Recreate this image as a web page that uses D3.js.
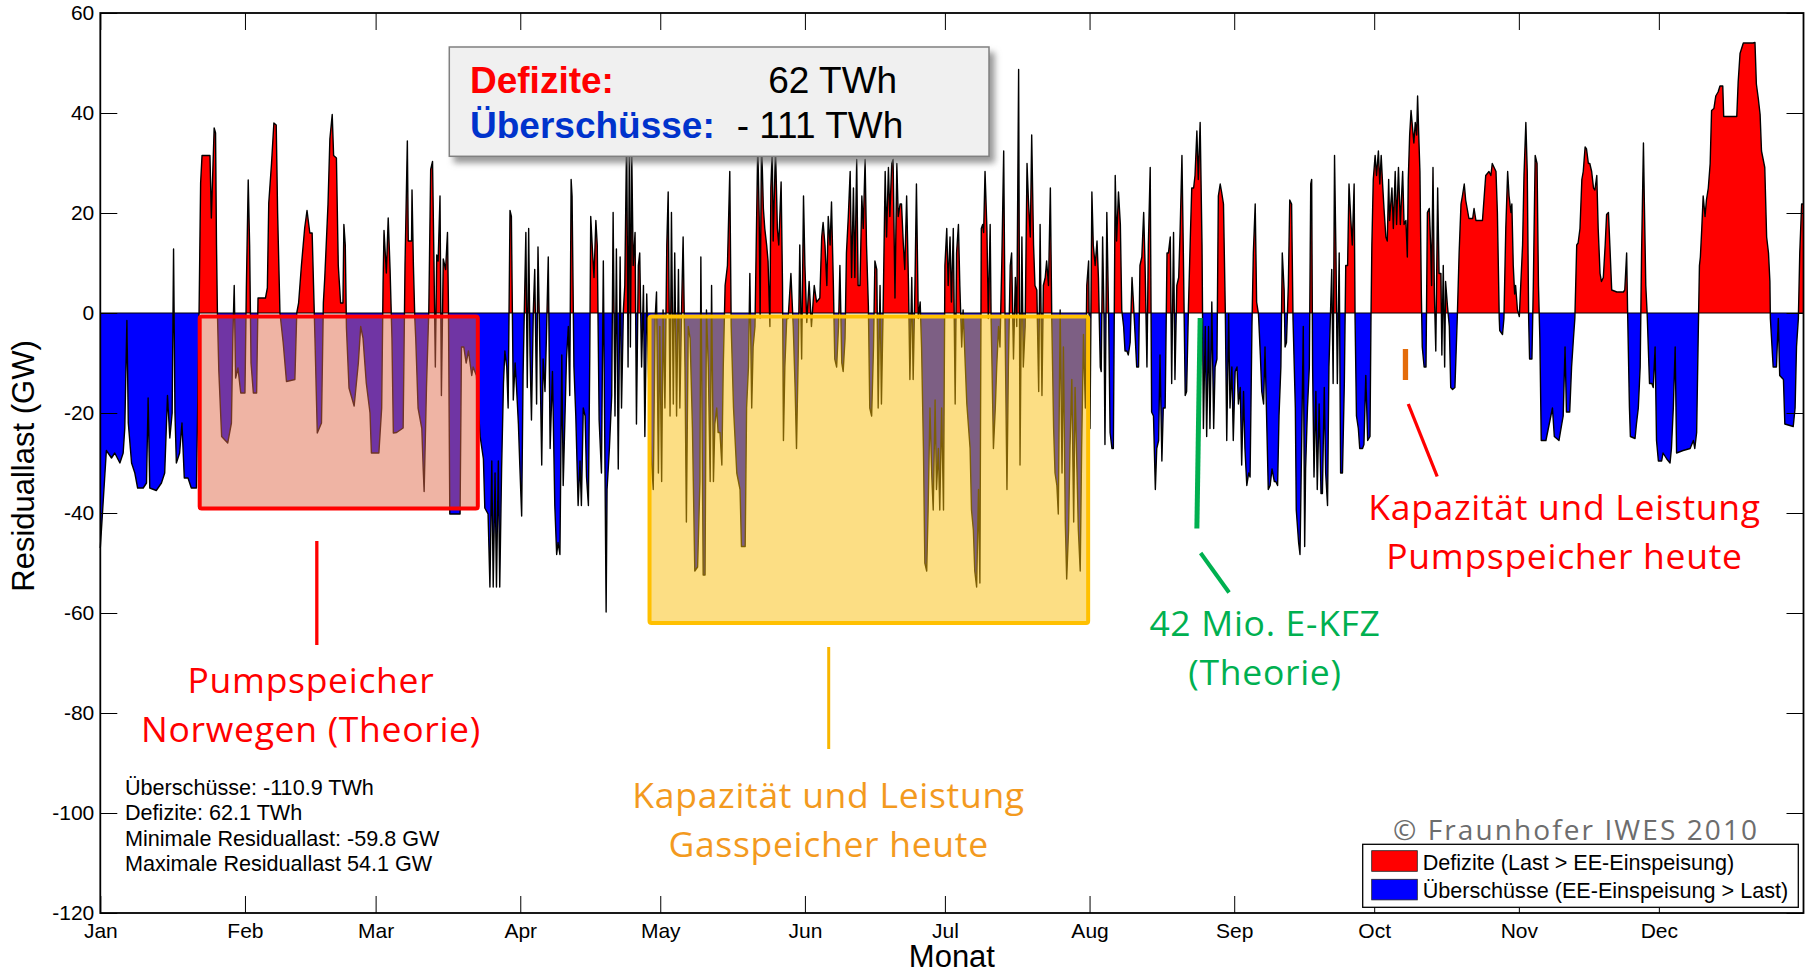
<!DOCTYPE html>
<html>
<head>
<meta charset="utf-8">
<script src="https://cdn.jsdelivr.net/npm/d3@7"></script>
<style>
body { margin: 0; background: #fff; }
svg { display: block; font-family: "Liberation Sans", Arial, sans-serif; }
.tick text { font-size: 21px; fill: #000; }
.tick line { stroke: #000; stroke-width: 1; }
.ann { font-family: "Open Sans", sans-serif; font-size: 35.5px; letter-spacing: 0.7px; text-anchor: middle; }
</style>
</head>
<body>
<div id="chart"></div>
<script>
// Residuallast, [Tag im Jahr, GW]
const q1 = [[0,-47],[1.3,-27.5],[2.4,-29],[3.1,-28],[4.2,-30],[4.9,-28],[5.25,-23],[5.7,-1.5],[6,-22],[6.7,-30],[7.4,-32],[8,-35],[9.2,-35],[9.9,-34],[10.25,-17],[10.6,-35],[12,-35.5],[13.1,-34],[13.8,-32],[14.4,-16.5],[14.9,-25],[15.4,-20],[15.7,12.8],[16,-20],[16.3,-30],[17,-28],[17.5,-22],[18,-33],[18.8,-33],[19.5,-35],[20.6,-35],[21.1,-5],[21.5,26],[21.8,31.5],[23.5,31.5],[23.8,19],[24.4,37],[24.7,36],[24.9,13.6],[25.1,0],[25.4,-11.6],[26,-24.7],[27.3,-26],[28.1,-22],[28.4,-5],[28.7,5.5],[29,-13],[29.5,-11],[30.1,-16],[31,-16],[31.3,5],[31.7,26.6],[32,13.6],[32.3,-10],[32.8,-16],[33.5,-16],[33.8,3],[35.4,3],[35.8,5],[36.1,22],[36.7,30],[37.2,38],[37.7,37.6],[38,20],[38.5,0],[39.2,-6],[39.9,-13.7],[41.7,-13.3],[42.1,0],[42.5,2],[43.1,9.5],[43.8,17],[44.3,20.5],[44.9,16],[45.4,16],[45.7,5.5],[46,-5],[46.5,-24],[47.4,-22],[47.8,2],[48.1,7],[48.8,21.8],[49.2,34.8],[49.7,39.7],[50,31.5],[50.6,31],[51,9.5],[51.5,2],[52,2],[52.2,17.7],[52.5,13.6],[52.75,-3],[53.3,-15],[54.4,-18.6],[55.3,-10],[55.8,-2.7],[56.3,-5],[57,-14],[57.8,-20],[58.1,-28],[59.7,-28],[60.3,-19],[60.6,6],[60.8,16.5],[61.3,8],[61.7,19],[62.1,8.7],[62.5,-5],[62.8,-24],[63.5,-23.9],[64.9,-23],[65.3,9.5],[65.8,34.4],[66,14.4],[66.7,14.4],[66.8,24.6],[67.1,9.5],[67.4,-1],[67.6,-5.1],[68.1,-19],[68.9,-23.1],[69.2,-31.2],[69.4,-35.7],[69.9,-14.9],[70.4,0.6],[70.8,28.7],[71.2,30.3],[71.5,10.4],[71.8,-10.8],[72.1,11.6],[72.4,10.4],[72.8,23.4],[73.1,-16.5],[73.5,10.8],[74,8.7],[74.4,16.1],[74.6,2.2],[74.9,-40.2],[77.1,-40.2],[77.4,-6.8],[77.9,-6.8],[78.4,-10],[78.9,-7.6],[79.6,-12.5],[79.9,-10.8],[80.6,-12.5],[81.4,-24.7],[82.1,-29.2],[82.4,-39],[83.1,-40.2],[83.5,-54.8],[83.9,-29.6],[84.2,-54.8],[84.6,-32],[84.9,-54.8],[85.3,-29.6],[85.6,-54.8],[86,-31.2],[86.4,-14.1],[86.7,-7.6],[87.1,-10.8],[87.4,-19],[87.8,20.5],[88.1,19.3],[88.5,-17.4],[88.9,-10],[89.2,-14.9],[89.6,-22.2]];
const q2 = [[89.9,-30.4],[90.3,-40.6],[90.6,-12.5],[91.2,16.1],[91.5,-14.9],[91.8,16.9],[92.1,-8.4],[92.4,-21.4],[92.8,0.6],[93.1,8.7],[93.5,-18.2],[93.8,13.2],[94.2,-7.6],[94.6,-30.4],[94.9,-9.2],[95.3,-15.7],[95.6,-5.1],[96,11.2],[96.4,-27.1],[96.9,-11.7],[97.4,-38.5],[97.8,-48.3],[98.1,-45.9],[98.5,-48.3],[98.9,-8.4],[99.2,-34.5],[99.9,-9.2],[100.3,-2.7],[100.6,-16.5],[100.9,26.7],[101.1,23.4],[101.5,-10.8],[101.9,-20.6],[102.4,-38.5],[102.8,-29.6],[103.1,-38.5],[103.5,-19],[103.9,-20.6],[104.2,-32.8],[104.6,-38.5],[104.9,-8.4],[105.1,19.3],[105.5,12],[105.8,7.1],[106.2,18.5],[106.5,13.6],[106.9,-21.4],[107.4,-32],[107.8,10.4],[108.4,-59.8],[108.6,-35.3],[109.1,-27.1],[109.6,-16.5],[109.9,20.1],[110.3,-20.6],[110.6,12.8],[111,-31.2],[111.4,11.2],[111.7,-19],[112.1,0.6],[112.4,5.5],[112.8,36],[113.1,-10.8],[113.4,38],[113.6,-6.8],[113.9,31.5],[114.2,9.5],[114.6,16.1],[114.9,-22.2],[115.3,9.5],[115.6,12],[116,-10.8],[116.4,5.5],[116.7,-24.7],[117.1,3.8],[117.8,-24.7],[118.5,-35.3],[118.9,-1.1],[119.2,4.2],[119.6,-32],[119.9,-2.7],[120.3,-33.7],[120.6,0.6],[121,-19],[121.4,13.6],[121.7,24.2],[122.1,-20.6],[122.4,20.1],[122.8,-18.2],[123.1,12],[123.5,-20.6],[123.9,8.7],[124.2,-19],[124.6,2.2],[124.9,15.2],[125.3,-10.8],[125.6,-41.8],[126,-2.7],[126.4,-5.1],[126.9,-23.1],[127.4,-51.6],[128,-50.8],[128.5,-33.7],[128.7,11.2],[129.2,-52.4],[129.6,-52.4],[129.9,0.6],[130.3,-10.8],[130.7,-33.7],[131,5.5],[131.4,-33.7],[131.7,-22.2],[132.1,-19],[132.4,-23.9],[132.8,-23.9],[133.2,-30.4],[133.5,-10.8],[133.9,5.5],[134.4,9.5],[134.9,28.3],[135.2,-2.7],[135.7,-19],[136.4,-32],[137.1,-35.3],[137.4,-46.7],[138.2,-46.7],[138.5,-19],[138.9,-10.8],[139.2,7.9],[139.6,-19],[139.9,-6.8],[140.3,-2.7],[140.9,34],[141.2,19.3],[141.4,-1],[141.7,35],[142.1,20.9],[142.4,16.9],[142.8,13.6],[143.1,10.4],[143.5,-2.7],[143.7,25],[144,33],[144.2,14.4],[144.7,33],[145.1,16.9],[145.4,13.6],[145.9,26.2],[146.2,5.5],[146.4,-25.5],[146.7,-10.8],[147.1,-1.1],[147.4,-1.1],[148,7.9],[148.5,-2.7],[148.9,-14.9],[149.2,-27.1],[149.6,-6.8],[149.9,13.6],[150.3,-9.2],[150.7,23.4],[151,9.5],[151.4,-1.9],[151.9,6.3],[152.4,-2.7],[153,5.5],[153.5,2.2],[154.2,3],[154.6,15.2],[154.9,18.1],[155.3,13.6],[155.7,5.5],[156,19.3],[156.4,13.6],[156.7,22.2],[157.1,5.5],[157.4,-9.2],[157.8,-10.8],[158.2,-2.7],[158.5,9.5],[158.9,-10],[159.2,-11.7],[159.6,-5.1],[159.9,12],[160.3,19.3],[160.7,28.3],[161,7.1],[161.4,25],[161.7,7.1],[162.1,30.7],[162.4,5.5],[162.8,5.5],[163.2,23.4],[163.5,16.9],[163.9,30.7],[164.2,13.6],[164.6,1.4],[164.9,-19],[165.3,-20.6],[165.7,-6.8],[166,10.4],[166.4,8.7],[166.7,-19],[167.1,5.5],[167.4,-18.2],[167.8,3],[168.2,28.3],[168.5,15.2],[168.9,29.1],[169.2,19.3],[169.6,29.9],[169.9,30.7],[170.3,3],[170.7,29.9],[171,19.3],[171.4,21.8],[171.7,21.8],[172.1,13.6],[172.4,8.7],[172.8,23.4],[173.2,5.5],[173.5,-13.3],[173.9,7.1],[174.2,-13.3],[174.6,6.3],[174.9,25.8],[175.3,-1.1],[175.7,2.2],[176,-6.8],[176.4,-27.1],[176.7,-50],[177.1,-51.6],[177.4,-39.4],[177.8,-19],[178.2,-32.8],[178.5,-39.4],[178.9,-17.4],[179.2,-35.3],[179.6,-27.1],[179.9,-39.4],[180.3,-19],[180.7,-39.4]];
const q3 = [[181,9.5],[181.4,16.9],[181.7,5.5],[182.1,15.2],[182.4,2.2],[182.8,16.9],[183.2,-18.2],[183.5,12],[183.9,17.7],[184.2,5.5],[184.6,-6.8],[184.9,0.6],[185.7,-18.2],[186.4,-27.1],[186.7,-39.4],[187.1,-43.4],[187.4,-51.6],[187.8,-54.8],[188.2,-35.3],[188.5,-54],[188.8,16.9],[189.1,17.7],[189.3,16.1],[189.6,28.3],[190,16.9],[190.3,-1.1],[190.7,17.7],[190.9,-1.1],[191.1,-10.8],[191.4,-27.1],[191.8,-19],[192.1,-10.8],[192.5,-2.7],[192.8,-6.8],[193.2,10.4],[193.6,32.4],[193.9,-2.7],[194.3,-35.3],[194.6,-10.8],[195,9.5],[195.3,12],[195.7,-9.2],[196.1,7.1],[196.4,-2.7],[196.8,48.7],[197.1,-30.4],[197.5,15.2],[197.8,-10.8],[198.2,-2.7],[198.6,29.9],[198.9,22.6],[199.3,15.2],[199.6,35.6],[200,13.6],[200.3,5.5],[200.7,4.6],[201.1,-15.7],[201.4,17.7],[201.8,-16.5],[202.1,5.5],[202.5,7.1],[202.8,10.4],[203.2,5.5],[203.6,25],[203.9,-1.1],[204.3,-23.1],[204.6,-32],[205,-34.5],[205.3,-40.2],[205.7,0.6],[206.1,-32],[206.4,-6.8],[206.8,-41.8],[207.1,-53.2],[207.5,-43.4],[207.8,-27.1],[208.2,-13.3],[208.6,-41.8],[208.9,-14.9],[209.3,-31.2],[209.6,-43.4],[210,-51.6],[210.3,-27.1],[210.7,-4.3],[211.1,-19],[211.4,5.5],[211.8,10.4],[212.1,-23.1],[212.5,24.2],[212.8,13.6],[213.2,9.5],[213.6,14.4],[213.9,7.1],[214.3,-10.8],[214.5,-11.7],[214.8,15.2],[215.1,-1.1],[215.3,-26.3],[215.7,20.1],[216.1,-1.1],[216.4,-23.9],[216.8,-27.1],[217.1,-27.1],[217.5,27.5],[217.8,14.4],[218.2,24.2],[218.6,17.7],[218.9,0.6],[219.3,-2.7],[219.6,-7.6],[220,-7.6],[220.3,-8.4],[220.7,-5.9],[221.1,7.1],[221.4,2.2],[221.8,-5.1],[222.1,-10.8],[222.5,-10.8],[222.8,9.5],[223.2,11.2],[223.6,20.1],[223.9,9.5],[224.3,-10.8],[224.6,13.6],[225,29.1],[225.3,-19.8],[225.7,-20.6],[226.1,-35.3],[226.4,-27.1],[226.8,-25.5],[227.1,-8.4],[227.5,-29.6],[227.8,-19],[228.2,-19],[228.6,12],[228.9,12],[229.3,15.2],[229.6,-14.1],[230,16.1],[230.3,-13.3],[230.7,5.5],[231.1,7.1],[231.4,16.1],[231.8,31.5],[232.1,12],[232.5,-16.5],[232.8,-15.7],[233.2,1.4],[233.6,15.2],[233.9,25],[234.3,25],[234.6,27.5],[235,36.4],[235.3,26.7],[235.7,38.1],[236.1,13.6],[236.4,-23.1],[236.8,-2.7],[237.1,-24.7],[237.5,-2.7],[237.8,-23.1],[238.2,2.2],[238.6,-23.1],[238.9,-10.8],[239.3,-9.2],[239.6,23.4],[240,25.8],[240.3,24.2],[240.7,21.8],[241.1,-0.2],[241.4,-25.5],[241.8,-0.2],[242.1,-19],[242.5,-10.8],[242.8,-25.5],[243.2,-11.7],[243.6,-10.8],[243.9,-18.2],[244.3,-14.9],[244.6,-30.4],[245,-15.7],[245.3,-27.1],[245.7,-34.5],[246.1,-32],[246.4,-32.8],[246.8,-2.7],[247.1,12],[247.5,21.8],[247.8,2.2],[248.2,-0.2],[248.6,-8.4],[248.9,-15.7],[249.3,-18.2],[249.6,-6.8],[250,-23.1],[250.3,-35.3],[250.7,-34.5],[251.1,-31.2],[251.6,-33.7],[251.9,-33.7],[252.3,-34.5],[252.6,-20.6],[253,-10.8],[253.3,12],[253.7,4.6],[253.9,-6.8],[254.2,-5.9],[254.6,5.5],[254.9,22.6],[255.3,21.8],[255.6,-1.1],[256.1,-19],[256.3,-39.4],[256.8,-45.9],[257.1,-48.3],[257.5,-23.1],[257.8,-2.7],[258.1,-46.7],[258.3,-31.2],[258.7,-19],[259.1,-10.8],[259.4,25.8],[259.6,26.7],[259.8,-10.8],[260.1,-32.8],[260.5,-15.7],[260.8,-35.3],[261.2,-18.2],[261.6,-36.1],[261.9,-36.1],[262.3,-14.9],[262.6,-32],[263,-38.5],[263.3,-10.8],[263.9,8.7],[264.2,-14.1],[264.5,31.5],[264.8,12],[265.1,-14.1],[265.5,12],[265.8,-32],[266.2,-32],[266.6,-14.1],[266.9,9.5],[267.3,9.5],[267.6,25.8],[268,18.5],[268.3,13.6],[268.7,25.8],[268.9,-1.1],[269.2,-20.6],[269.6,-23.1],[269.9,-27.1],[270.5,-27.1],[270.8,-26.3],[271.2,-12.5],[271.6,-25.5],[272.1,-24.7],[272.3,-1.9]];
const q4 = [[272.5,13.6],[272.8,26.7],[273.2,31.5],[273.5,27.5],[273.9,32.4],[274.2,25.8],[274.5,31.5],[274.8,25.8],[275.1,20.9],[275.5,15.2],[275.8,14.4],[276.1,26.7],[276.3,18.5],[276.8,25],[277.1,16.9],[277.5,28.3],[277.8,17.7],[278.2,29.1],[278.6,17.7],[279.1,28.3],[279.4,17.7],[279.8,18.5],[280.1,11.2],[280.3,26.7],[280.6,35.6],[280.9,40.5],[281.2,37.2],[281.5,34],[281.8,38.1],[282.1,35.6],[282.3,43.4],[282.6,34],[282.8,28.3],[283.1,3.8],[283.3,-6.8],[283.7,-10.8],[284.1,-10.8],[284.4,20.1],[284.8,20.9],[285.1,13.6],[285.3,5.5],[285.6,29.1],[285.9,3.8],[286.2,-7.6],[286.6,25],[286.9,7.9],[287.3,7.9],[287.5,-8.4],[287.8,9.5],[288.1,-10.8],[288.3,6.3],[288.7,1.4],[289.1,-2.7],[289.4,-14.9],[289.8,-15.3],[290.3,-14.9],[290.8,-1.1],[291.2,12],[291.6,21.8],[291.9,23.4],[292.3,25.8],[292.6,22.6],[293.3,18.9],[294.1,18.9],[294.4,20.9],[294.8,18.5],[296.2,18.5],[296.9,27.5],[297.6,28.3],[298,27.5],[298.3,29.9],[298.7,29.1],[299.1,28.3],[299.4,20.1],[299.8,-1.1],[299.9,-3.5],[300.5,-4.3],[300.8,-1.1],[301.2,16.9],[301.6,28.3],[301.9,23.4],[302.3,20.1],[302.5,21.8],[302.8,9.5],[303.1,3.8],[303.3,5.5],[303.7,0.6],[304.1,-0.7],[304.4,5.5],[304.8,13.6],[305.1,27.5],[305.5,38.1],[305.8,28.3],[306.1,-1.1],[306.3,-9.2],[306.8,-9.2],[307.1,5.5],[307.5,31.5],[307.9,29.9],[308.2,5.5],[308.5,-5.1],[308.8,-25.5],[309.8,-25.5],[311.2,-19],[311.6,-24.7],[312.6,-25.5],[313.2,-22.2],[313.5,-20.6],[313.9,-6.8],[314.2,-19.8],[314.9,-19.8],[315.3,-10.8],[315.7,-5.1],[316,-1.1],[316.4,13.6],[316.7,14],[317.1,16.9],[317.5,26.7],[317.8,28.3],[318.2,33.2],[318.5,32.8],[318.9,29.9],[319.2,29.9],[319.6,28.3],[320,25],[320.3,24.6],[320.7,27.5],[321,16.9],[321.4,7.9],[321.7,6.3],[322.1,7.1],[322.5,13.6],[322.8,19.7],[323.2,20.1],[323.5,13.6],[323.9,4.6],[325,4.2],[326.4,4.2],[326.7,4.6],[327.1,12],[327.3,0.6],[327.7,-19],[327.9,-24.7],[328.9,-25.1],[329.2,-22.2],[329.6,-19],[330,-10.8],[330.3,12],[330.7,34],[330.9,21.8],[331.2,5.5],[331.5,-0.2],[332,-14.1],[332.5,-14.1],[332.8,-14.9],[333.2,-6.8],[333.5,-25.5],[333.9,-29.6],[334.6,-29.6],[334.9,-28],[335.7,-29.2],[336.4,-30],[336.7,-27.1],[337.1,-19],[337.5,-6.8],[337.8,-28],[339.2,-27.5],[340.7,-27.1],[341.4,-25.5],[341.7,-27.1],[342.1,-23.9],[342.5,-1.1],[342.7,9.5],[342.9,11.2],[343.2,16.9],[343.5,23.4],[343.9,19.3],[344.2,22.6],[344.6,25],[345,29.9],[345.3,40.5],[345.8,40.9],[346.2,43.4],[346.7,44.2],[347.1,45.4],[347.7,45.4],[347.9,39.3],[350.7,39.3],[351,46.2],[351.4,51.9],[352.1,54],[354.2,54],[354.6,54.1],[354.9,45.8],[355.3,43],[355.7,39.7],[356,32.4],[356.7,29.1],[357.1,15.2],[357.5,12],[357.8,6.3],[357.9,-1.1],[358.5,-10.8],[359.2,-10.8],[359.6,-1.1],[359.9,-12.5],[360.7,-13.3],[361,-22.2],[362.8,-22.7],[363.2,-19],[363.5,-6.8],[363.9,-1.1],[364.2,12],[364.6,21.8],[365,21.8]];

const monthLabels = ["Jan","Feb","Mar","Apr","May","Jun","Jul","Aug","Sep","Oct","Nov","Dec"];
const gwTicks = [60, 40, 20, 0, -20, -40, -60, -80, -100, -120];
const summaryLabels = ["Defizite:", "Überschüsse:"];
const summaryValues = ["62 TWh", "- 111 TWh"];
const statLines = ["Überschüsse: -110.9 TWh", "Defizite: 62.1 TWh", "Minimale Residuallast: -59.8 GW", "Maximale Residuallast 54.1 GW"];
const legendItems = [["Defizite (Last > EE-Einspeisung)", "#ff0000"], ["Überschüsse (EE-Einspeisung > Last)", "#0000ff"]];

const W = 1812, H = 974;
const margin = {top: 13, right: 8.5, bottom: 61, left: 100.3};
const width = W - margin.left - margin.right,
	height = H - margin.top - margin.bottom;

const year0 = new Date(Date.UTC(2007, 0, 1)), year1 = new Date(Date.UTC(2008, 0, 1));
const dayToDate = (d) => new Date(year0.getTime() + d * 864e5);

const series = [...q1, ...q2, ...q3, ...q4].map(([d, v]) => ({date: dayToDate(d), gw: v}));

const svg = d3.select("#chart").append("svg")
	.attr("width", W)
	.attr("height", H);

const defs = svg.append("defs");
const shadow = defs.append("filter").attr("id", "shadow")
	.attr("x", "-5%").attr("y", "-10%").attr("width", "115%").attr("height", "135%");
shadow.append("feDropShadow").attr("dx", 5).attr("dy", 6).attr("stdDeviation", 3)
	.attr("flood-color", "#777").attr("flood-opacity", 0.75);

const g = svg.append("g")
	.attr("transform", "translate(" + margin.left + "," + margin.top + ")");

const x = d3.scaleUtc().domain([year0, year1]).range([0, width]);
const y = d3.scaleLinear().domain([-120, 60]).range([height, 0]);
const X = (d) => x(dayToDate(d));

// clip rects live in the plot group's own coordinates
defs.append("clipPath").attr("id", "clipPos").append("rect")
	.attr("x", 0).attr("y", 0).attr("width", width).attr("height", y(0));
defs.append("clipPath").attr("id", "clipNeg").append("rect")
	.attr("x", 0).attr("y", y(0)).attr("width", width).attr("height", height - y(0));

const area = d3.area().x((d) => x(d.date)).y0(y(0)).y1((d) => y(d.gw));
const line = d3.line().x((d) => x(d.date)).y((d) => y(d.gw));

g.append("path").datum(series)
	.attr("clip-path", "url(#clipPos)")
	.attr("d", area).attr("fill", "#ff0000");
g.append("path").datum(series)
	.attr("clip-path", "url(#clipNeg)")
	.attr("d", area).attr("fill", "#0000ff");

g.append("line").attr("x1", 0).attr("x2", width).attr("y1", y(0)).attr("y2", y(0))
	.attr("stroke", "#000").attr("stroke-width", 1);

g.append("path").datum(series)
	.attr("d", line)
	.attr("fill", "none")
	.attr("stroke", "#000")
	.attr("stroke-width", 1.4)
	.attr("stroke-linejoin", "round");

// storage boxes (days, GW)
const boxes = [
	{d0: 21.3, d1: 80.9, top: -0.7, bottom: -39.1, fill: "rgb(224,106,74)", stroke: "#ff0000"},
	{d0: 117.7, d1: 211.7, top: -0.7, bottom: -62, fill: "rgb(250,190,10)", stroke: "#ffc000"}
];
g.selectAll("rect.store").data(boxes).enter().append("rect")
	.attr("class", "store")
	.attr("x", (d) => X(d.d0))
	.attr("y", (d) => y(d.top))
	.attr("width", (d) => X(d.d1) - X(d.d0))
	.attr("height", (d) => y(d.bottom) - y(d.top))
	.attr("rx", 2)
	.attr("fill", (d) => d.fill)
	.attr("fill-opacity", 0.5)
	.attr("stroke", (d) => d.stroke)
	.attr("stroke-width", 4);

// pointer lines (days, GW)
const pointers = [
	{a: [46.4, -45.6], b: [46.4, -66.4], c: "#ff0000", w: 3.3},
	{a: [156.1, -66.8], b: [156.1, -87.2], c: "#f8b600", w: 3},
	{a: [235.7, -1], b: [235.0, -43.1], c: "#00b050", w: 5},
	{a: [235.8, -48], b: [241.9, -55.9], c: "#00b050", w: 4},
	{a: [279.7, -7.2], b: [279.7, -13.4], c: "#e46c0a", w: 5.3},
	{a: [280.3, -18.2], b: [286.5, -32.7], c: "#ff0000", w: 3.3}
];
g.selectAll("line.ptr").data(pointers).enter().append("line")
	.attr("class", "ptr")
	.attr("x1", (d) => X(d.a[0])).attr("y1", (d) => y(d.a[1]))
	.attr("x2", (d) => X(d.b[0])).attr("y2", (d) => y(d.b[1]))
	.attr("stroke", (d) => d.c).attr("stroke-width", (d) => d.w);

// axes, ticks inward on all sides
const monthStarts = d3.utcMonths(year0, year1);
g.append("g").attr("transform", "translate(0," + height + ")")
	.call(d3.axisBottom(x).tickValues(monthStarts).tickFormat((d, i) => monthLabels[i]).tickSize(-17).tickPadding(10))
	.call((a) => a.select(".domain").remove());
g.append("g")
	.call(d3.axisTop(x).tickValues(monthStarts).tickFormat("").tickSize(-17))
	.call((a) => a.select(".domain").remove());
g.append("g")
	.call(d3.axisLeft(y).tickValues(gwTicks).tickFormat((d) => d).tickSize(-17).tickPadding(6))
	.call((a) => a.select(".domain").remove());
g.append("g").attr("transform", "translate(" + width + ",0)")
	.call(d3.axisRight(y).tickValues(gwTicks).tickFormat("").tickSize(-17))
	.call((a) => a.select(".domain").remove());
svg.selectAll(".tick text").attr("font-family", null).attr("font-size", null);

g.append("rect").attr("width", width).attr("height", height)
	.attr("fill", "none").attr("stroke", "#000").attr("stroke-width", 1.8);

svg.append("text")
	.attr("transform", "translate(34," + (margin.top + height / 2 + 3) + ") rotate(-90)")
	.attr("text-anchor", "middle").attr("font-size", 31)
	.text("Residuallast (GW)");
svg.append("text")
	.attr("x", margin.left + width / 2).attr("y", 967)
	.attr("text-anchor", "middle").attr("font-size", 31)
	.text("Monat");

// summary box
svg.append("rect")
	.attr("x", 449.3).attr("y", 47).attr("width", 539.7).attr("height", 109.3)
	.attr("fill", "#f0f0f0").attr("stroke", "#808080").attr("stroke-width", 1.5)
	.attr("filter", "url(#shadow)");
const sumColors = ["#ff0000", "#0033cc"];
const sumY = [93, 137.6];
const sumValX = [768.3, 736.7];
summaryLabels.forEach((t, i) => {
	svg.append("text").attr("x", 470).attr("y", sumY[i])
		.attr("font-size", 37).attr("font-weight", "bold").attr("fill", sumColors[i]).text(t);
	svg.append("text").attr("x", sumValX[i]).attr("y", sumY[i])
		.attr("font-size", 37).attr("fill", "#000").text(summaryValues[i]);
});

// statistics
svg.selectAll("text.stat").data(statLines).enter().append("text")
	.attr("class", "stat")
	.attr("x", 125)
	.attr("y", (d, i) => 795 + i * 25.3)
	.attr("font-size", 21.6)
	.text((d) => d);

// annotations, two lines each
const notes = [
	{x: 311, y: 693, c: "#ff0000", lines: ["Pumpspeicher", "Norwegen (Theorie)"]},
	{x: 828.6, y: 808, c: "#f39a1e", lines: ["Kapazität und Leistung", "Gasspeicher heute"]},
	{x: 1265, y: 636, c: "#00b050", lines: ["42 Mio. E-KFZ", "(Theorie)"]},
	{x: 1564.5, y: 520, c: "#ff0000", lines: ["Kapazität und Leistung", "Pumpspeicher heute"]}
];
notes.forEach((n) => {
	n.lines.forEach((s, i) => {
		svg.append("text").attr("class", "ann")
			.attr("x", n.x).attr("y", n.y + i * 48.6)
			.attr("fill", n.c).text(s);
	});
});

svg.append("text")
	.attr("x", 1393).attr("y", 840)
	.attr("font-family", "'Open Sans', sans-serif").attr("font-size", 28)
	.attr("fill", "#6d6d6d")
	.attr("textLength", 364).attr("lengthAdjust", "spacing")
	.text("© Fraunhofer IWES 2010");

// legend
const leg = svg.append("g");
leg.append("rect").attr("x", 1362.7).attr("y", 844.3).attr("width", 435.6).attr("height", 63)
	.attr("fill", "#fff").attr("stroke", "#000").attr("stroke-width", 1.3);
legendItems.forEach(([t, c], i) => {
	leg.append("rect").attr("x", 1371.7).attr("y", 850.7 + i * 28.6).attr("width", 45.6).attr("height", 20.6)
		.attr("fill", c).attr("stroke", "#222").attr("stroke-width", 0.8);
	leg.append("text").attr("x", 1422.7).attr("y", 870 + i * 28.3)
		.attr("font-size", 21.6).text(t);
});
</script>
</body>
</html>
